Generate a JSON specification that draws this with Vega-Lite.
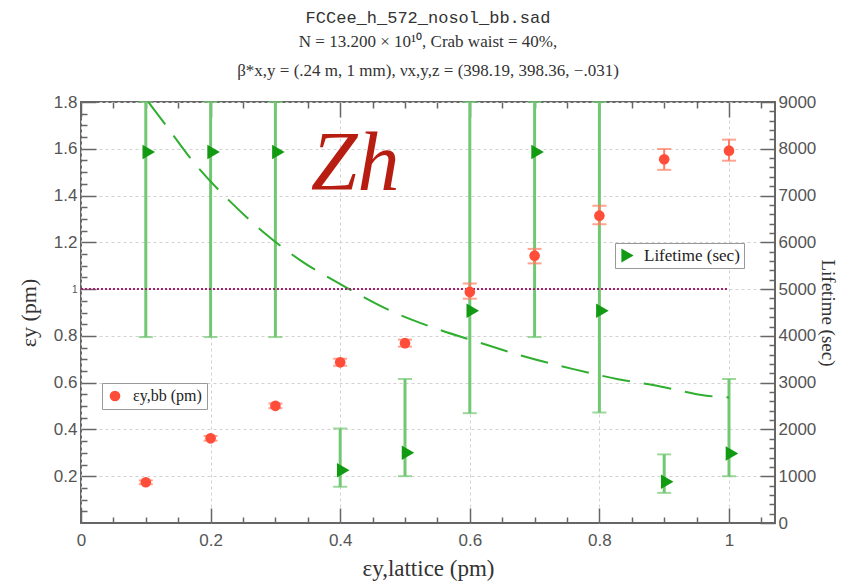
{
  "$schema": "https://vega.github.io/schema/vega-lite/v6.json",
  "width": 694,
  "height": 421,
  "autosize": {"type": "none"},
  "padding": {"left": 81, "top": 102, "right": 68, "bottom": 63},
  "background": "white",
  "title": {
    "text": "FCCee_h_572_nosol_bb.sad",
    "subtitle": ["N = 13.200 × 10¹⁰, Crab waist = 40%,", "β*x,y = (.24 m, 1 mm), νx,y,z = (398.19, 398.36, −.031)"],
    "font": "Liberation Mono", "fontSize": 17, "fontWeight": "normal", "color": "#333",
    "subtitleFont": "Liberation Serif", "subtitleFontSize": 17, "subtitleColor": "#333",
    "subtitleLineHeight": 29, "subtitlePadding": 7, "offset": 13, "anchor": "middle"
  },
  "datasets": {
    "red": [
      {"x": 0.1, "v": 0.174, "lo": 0.166, "hi": 0.182, "s": "εy,bb (pm)"},
      {"x": 0.2, "v": 0.362, "lo": 0.352, "hi": 0.372, "s": "εy,bb (pm)"},
      {"x": 0.3, "v": 0.501, "lo": 0.491, "hi": 0.511, "s": "εy,bb (pm)"},
      {"x": 0.4, "v": 0.687, "lo": 0.672, "hi": 0.702, "s": "εy,bb (pm)"},
      {"x": 0.5, "v": 0.769, "lo": 0.754, "hi": 0.784, "s": "εy,bb (pm)"},
      {"x": 0.6, "v": 0.988, "lo": 0.959, "hi": 1.024, "s": "εy,bb (pm)"},
      {"x": 0.7, "v": 1.143, "lo": 1.11, "hi": 1.172, "s": "εy,bb (pm)"},
      {"x": 0.8, "v": 1.314, "lo": 1.277, "hi": 1.356, "s": "εy,bb (pm)"},
      {"x": 0.9, "v": 1.555, "lo": 1.51, "hi": 1.599, "s": "εy,bb (pm)"},
      {"x": 1.0, "v": 1.592, "lo": 1.549, "hi": 1.639, "s": "εy,bb (pm)"}
    ],
    "green": [
      {"x": 0.1, "t": 7930, "lo": 3975, "hi": 9000, "s": "Lifetime (sec)"},
      {"x": 0.2, "t": 7930, "lo": 3975, "hi": 9000, "s": "Lifetime (sec)"},
      {"x": 0.3, "t": 7930, "lo": 3975, "hi": 9000, "s": "Lifetime (sec)"},
      {"x": 0.4, "t": 1130, "lo": 773, "hi": 2019, "s": "Lifetime (sec)"},
      {"x": 0.5, "t": 1503, "lo": 1001, "hi": 3078, "s": "Lifetime (sec)"},
      {"x": 0.6, "t": 4538, "lo": 2348, "hi": 9000, "s": "Lifetime (sec)"},
      {"x": 0.7, "t": 7930, "lo": 3975, "hi": 9000, "s": "Lifetime (sec)"},
      {"x": 0.8, "t": 4538, "lo": 2363, "hi": 9000, "s": "Lifetime (sec)"},
      {"x": 0.9, "t": 880, "lo": 644, "hi": 1467, "s": "Lifetime (sec)"},
      {"x": 1.0, "t": 1488, "lo": 1000, "hi": 3078, "s": "Lifetime (sec)"}
    ],
    "curve": [
      {"x": 0.104, "t": 9000}, {"x": 0.132, "t": 8485}, {"x": 0.176, "t": 7675},
      {"x": 0.23, "t": 6875}, {"x": 0.284, "t": 6190}, {"x": 0.338, "t": 5620},
      {"x": 0.405, "t": 5070}, {"x": 0.474, "t": 4560}, {"x": 0.546, "t": 4165},
      {"x": 0.613, "t": 3865}, {"x": 0.683, "t": 3565}, {"x": 0.76, "t": 3290},
      {"x": 0.829, "t": 3075}, {"x": 0.894, "t": 2920}, {"x": 0.965, "t": 2720},
      {"x": 1.0, "t": 2685}
    ],
    "ref": [{"x0": 0, "x1": 1, "y": 1}],
    "note": [{"x": 0.423, "y": 1.423, "label": "Zh"}]
  },
  "layer": [
    {
      "layer": [
        {
          "data": {"name": "green"},
          "mark": {"type": "errorbar", "color": "#72c872", "ticks": {"size": 14, "thickness": 2}, "rule": {"strokeWidth": 3}},
          "encoding": {
            "x": {"field": "x", "type": "quantitative", "scale": {"domain": [0, 1.071], "nice": false}, "axis": null},
            "y": {"field": "lo", "type": "quantitative", "scale": {"domain": [0, 9000], "nice": false}, "axis": null},
            "y2": {"field": "hi"}
          }
        },
        {
          "data": {"name": "curve"},
          "mark": {"type": "line", "color": "#2fae2f", "strokeWidth": 2, "strokeDash": [28, 14], "interpolate": "monotone", "clip": true},
          "encoding": {
            "x": {"field": "x", "type": "quantitative", "scale": {"domain": [0, 1.071], "nice": false}, "axis": null},
            "y": {"field": "t", "type": "quantitative", "scale": {"domain": [0, 9000], "nice": false}, "axis": null}
          }
        },
        {
          "data": {"name": "green"},
          "mark": {"type": "point", "shape": "triangle-right", "filled": true, "size": 210, "opacity": 1, "xOffset": 3},
          "encoding": {
            "x": {"field": "x", "type": "quantitative", "scale": {"domain": [0, 1.071], "nice": false}, "axis": null},
            "y": {"field": "t", "type": "quantitative", "scale": {"domain": [0, 9000], "nice": false},
              "axis": {"orient": "right", "values": [0,1000,2000,3000,4000,5000,6000,7000,8000,9000], "format": "d", "tickSize": -15, "labelPadding": 18, "grid": false, "title": "Lifetime (sec)", "titleFontSize": 19, "titlePadding": 2, "labelFlush": false, "labelOverlap": false}},
            "color": {"field": "s", "type": "nominal", "scale": {"range": ["#139a13"]},
              "legend": {"orient": "none", "legendX": 534, "legendY": 141, "title": null, "symbolType": "triangle-right", "symbolSize": 200, "strokeColor": "#999", "fillColor": "white", "padding": 4, "labelFont": "Liberation Serif", "labelFontSize": 17, "labelColor": "#222", "labelOffset": 8}}
          }
        },
        {
          "data": {"name": "green"},
          "mark": {"type": "point", "opacity": 0},
          "encoding": {
            "x": {"field": "x", "type": "quantitative", "scale": {"domain": [0, 1.071], "nice": false}, "axis": null},
            "y": {"field": "t", "type": "quantitative", "scale": {"domain": [0, 9000], "nice": false},
              "axis": {"orient": "right", "values": [200,400,600,800,1200,1400,1600,1800,2200,2400,2600,2800,3200,3400,3600,3800,4200,4400,4600,4800,5200,5400,5600,5800,6200,6400,6600,6800,7200,7400,7600,7800,8200,8400,8600,8800], "tickSize": -6, "labels": false, "grid": false, "title": null}}
          }
        }
      ],
      "resolve": {"axis": {"y": "independent", "x": "independent"}}
    },
    {
      "layer": [
        {
          "data": {"name": "ref"},
          "mark": {"type": "rule", "color": "#a3206e", "strokeWidth": 2, "strokeDash": [2, 2]},
          "encoding": {
            "x": {"field": "x0", "type": "quantitative", "scale": {"domain": [0, 1.071], "nice": false},
              "axis": {"orient": "top", "values": [0, 0.2, 0.4, 0.6, 0.8, 1], "tickSize": -15, "labels": false, "grid": false, "title": null}},
            "x2": {"field": "x1"},
            "y": {"field": "y", "type": "quantitative", "scale": {"domain": [0, 1.8], "nice": false}, "axis": null}
          }
        },
        {
          "data": {"name": "red"},
          "mark": {"type": "errorbar", "color": "#ff7d62", "ticks": {"size": 14, "thickness": 2}, "rule": {"strokeWidth": 2}},
          "encoding": {
            "x": {"field": "x", "type": "quantitative", "scale": {"domain": [0, 1.071], "nice": false}, "axis": null},
            "y": {"field": "lo", "type": "quantitative", "scale": {"domain": [0, 1.8], "nice": false}, "axis": null},
            "y2": {"field": "hi"}
          }
        },
        {
          "data": {"name": "red"},
          "mark": {"type": "point", "filled": true, "size": 113, "opacity": 1, "shape": "circle"},
          "encoding": {
            "x": {"field": "x", "type": "quantitative", "scale": {"domain": [0, 1.071], "nice": false},
              "axis": {"orient": "bottom", "values": [0, 0.2, 0.4, 0.6, 0.8, 1], "format": "~g", "tickSize": -15, "labelPadding": 24, "grid": true, "title": "εy,lattice (pm)", "titleFontSize": 23, "titlePadding": 9, "labelFlush": false, "labelOverlap": false}},
            "y": {"field": "v", "type": "quantitative", "scale": {"domain": [0, 1.8], "nice": false},
              "axis": {"orient": "left", "values": [0.2, 0.4, 0.6, 0.8, 1, 1.2, 1.4, 1.6, 1.8], "format": "~g", "tickSize": -15, "labelPadding": 19, "grid": true, "title": "εy (pm)", "titleFontSize": 22, "titleX": -53, "titleBaseline": "middle", "labelFlush": false, "labelOverlap": false,
                "labelFontSize": {"condition": {"test": "datum.value === 1", "value": 10}, "value": 17}}},
            "color": {"field": "s", "type": "nominal", "scale": {"range": ["#ff4d3a"]},
              "legend": {"orient": "none", "legendX": 21, "legendY": 281, "title": null, "symbolType": "circle", "symbolSize": 113, "strokeColor": "#999", "fillColor": "white", "padding": 5, "labelFont": "Liberation Serif", "labelFontSize": 16, "labelColor": "#222", "labelOffset": 10}}
          }
        },
        {
          "data": {"name": "red"},
          "mark": {"type": "point", "opacity": 0},
          "encoding": {
            "x": {"field": "x", "type": "quantitative", "scale": {"domain": [0, 1.071], "nice": false},
              "axis": {"orient": "bottom", "values": [0.05,0.1,0.15,0.25,0.3,0.35,0.45,0.5,0.55,0.65,0.7,0.75,0.85,0.9,0.95,1.05], "tickSize": -6, "labels": false, "grid": false, "title": null}},
            "y": {"field": "v", "type": "quantitative", "scale": {"domain": [0, 1.8], "nice": false},
              "axis": {"orient": "left", "values": [0.05,0.1,0.15,0.25,0.3,0.35,0.45,0.5,0.55,0.65,0.7,0.75,0.85,0.9,0.95,1.05,1.1,1.15,1.25,1.3,1.35,1.45,1.5,1.55,1.65,1.7,1.75], "tickSize": -6, "labels": false, "grid": false, "title": null}}
          }
        },
        {
          "data": {"name": "red"},
          "mark": {"type": "point", "opacity": 0},
          "encoding": {
            "x": {"field": "x", "type": "quantitative", "scale": {"domain": [0, 1.071], "nice": false},
              "axis": {"orient": "top", "values": [0.05,0.1,0.15,0.25,0.3,0.35,0.45,0.5,0.55,0.65,0.7,0.75,0.85,0.9,0.95,1.05], "tickSize": -6, "labels": false, "grid": false, "title": null}},
            "y": {"field": "v", "type": "quantitative", "scale": {"domain": [0, 1.8], "nice": false}, "axis": null}
          }
        },
        {
          "data": {"name": "note"},
          "mark": {"type": "text", "font": "Liberation Serif", "fontStyle": "italic", "fontSize": 84, "color": "#b81d12", "align": "center", "baseline": "alphabetic"},
          "encoding": {
            "x": {"field": "x", "type": "quantitative", "scale": {"domain": [0, 1.071], "nice": false}, "axis": null},
            "y": {"field": "y", "type": "quantitative", "scale": {"domain": [0, 1.8], "nice": false}, "axis": null},
            "text": {"field": "label"}
          }
        }
      ],
      "resolve": {"axis": {"y": "independent", "x": "independent"}}
    }
  ],
  "resolve": {"scale": {"y": "independent", "color": "independent"}, "axis": {"y": "independent", "x": "independent"}},
  "config": {
    "view": {"stroke": "#666", "strokeWidth": 2},
    "axis": {"domain": false, "tickColor": "#666", "tickWidth": 1.5, "labelColor": "#555", "labelFont": "Liberation Sans", "labelFontSize": 17, "titleColor": "#333", "titleFont": "Liberation Serif", "titleFontWeight": "normal", "gridColor": "#d2d2d2", "gridDash": [3, 3], "gridWidth": 1},
    "legend": {"labelLimit": 300}
  }
}
